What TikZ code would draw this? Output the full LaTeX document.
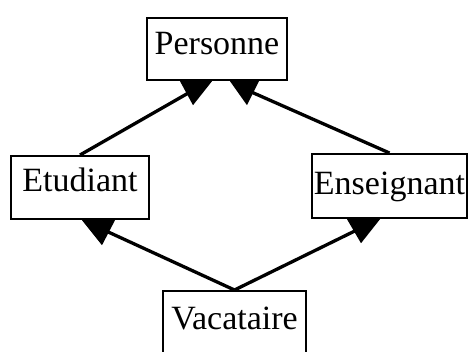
\documentclass[tikz,border=0pt]{standalone}
\usepackage{fontspec}
\setmainfont{Liberation Serif}
\usetikzlibrary{calc}
\begin{document}
\begin{tikzpicture}[x=1pt,y=-1pt,
  classbox/.style={draw=black, line width=2.2pt, inner sep=0pt, anchor=north,
    font=\fontsize{34}{40}\selectfont},
  link/.style={line width=3.3pt},
  head/.style={fill=black}]
\path[use as bounding box, clip] (0,0) rectangle (470,351);
\fill[white] (0,0) rectangle (470,351);

\node[classbox, minimum width=140pt, text height=36pt, text depth=26pt] (P) at (217,17) {Personne};
\node[classbox, minimum width=138pt, text height=35pt, text depth=28pt] (E) at (80,155) {Etudiant};
\node[classbox, minimum width=155pt, text height=40pt, text depth=24pt] (N) at (389.5,153) {Enseignant};
\node[classbox, minimum width=143pt, text height=38pt, text depth=65pt] (V) at (234.5,290) {Vacataire};

% arrow-head targets (triangle centres)
\coordinate (PL) at ($(P.south)+(-22,8)$);
\coordinate (PR) at ($(P.south)+(28,8)$);
\coordinate (EB) at ($(E.south)+(20,8)$);
\coordinate (NB) at ($(N.south)+(-27,8)$);

\draw[link] (E.north) -- (PL);
\draw[link] (N.north) -- (PR);
\draw[link] (V.north) -- (EB);
\draw[link] (V.north) -- (NB);

\fill[head] ($(P.south)+(-37,0)$) -- ($(P.south)+(-5,0)$) -- ($(P.south)+(-24,24)$) -- cycle;
\fill[head] ($(P.south)+(13,0)$) -- ($(P.south)+(42,0)$) -- ($(P.south)+(30,24)$) -- cycle;
\fill[head] ($(E.south)+(2,0)$) -- ($(E.south)+(35,0)$) -- ($(E.south)+(22,25)$) -- cycle;
\fill[head] ($(N.south)+(-42.5,0)$) -- ($(N.south)+(-9.5,0)$) -- ($(N.south)+(-28.5,24)$) -- cycle;
\end{tikzpicture}
\end{document}
